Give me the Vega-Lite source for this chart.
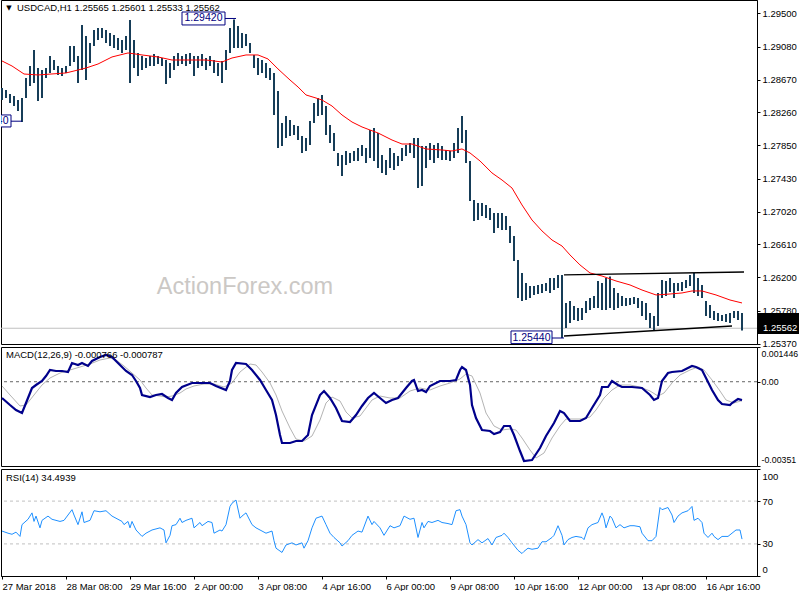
{
  "$schema": "https://vega.github.io/schema/vega-lite/v6.json",
  "background": "white",
  "padding": {"left": -3, "top": -1, "right": 0, "bottom": 0},
  "spacing": 3,
  "bounds": "flush",
  "config": {
    "view": {"stroke": "#000", "strokeWidth": 1},
    "axis": {"labelFont": "Liberation Sans", "labelFontSize": 9.5, "labelColor": "#000", "domainColor": "#000", "tickColor": "#000", "tickSize": 3, "labelPadding": 2, "grid": false},
    "text": {"font": "Liberation Sans"}
  },
  "datasets": {
    "bars": [{"t":0,"h":1.28565,"l":1.28415},{"t":2,"h":1.2854,"l":1.2844},{"t":4,"h":1.2849,"l":1.28378},{"t":6,"h":1.28465,"l":1.2834},{"t":8,"h":1.28415,"l":1.28278},{"t":10,"h":1.2844,"l":1.2814},{"t":12,"h":1.2869,"l":1.2844},{"t":14,"h":1.2884,"l":1.2859},{"t":16,"h":1.2904,"l":1.28628},{"t":18,"h":1.28815,"l":1.28403},{"t":20,"h":1.2879,"l":1.2844},{"t":22,"h":1.28815,"l":1.2869},{"t":24,"h":1.28965,"l":1.28753},{"t":26,"h":1.28915,"l":1.2879},{"t":28,"h":1.2884,"l":1.28728},{"t":30,"h":1.28815,"l":1.28715},{"t":32,"h":1.2884,"l":1.28753},{"t":34,"h":1.2909,"l":1.2884},{"t":36,"h":1.2909,"l":1.2889},{"t":38,"h":1.28965,"l":1.28628},{"t":40,"h":1.29353,"l":1.2879},{"t":42,"h":1.29215,"l":1.28665},{"t":44,"h":1.29128,"l":1.28878},{"t":46,"h":1.2929,"l":1.2909},{"t":48,"h":1.29315,"l":1.29165},{"t":50,"h":1.29315,"l":1.2919},{"t":52,"h":1.2929,"l":1.29128},{"t":54,"h":1.29253,"l":1.2909},{"t":56,"h":1.29228,"l":1.29065},{"t":58,"h":1.2919,"l":1.2904},{"t":60,"h":1.29165,"l":1.29003},{"t":62,"h":1.29215,"l":1.2904},{"t":64,"h":1.29415,"l":1.28628},{"t":66,"h":1.29165,"l":1.28815},{"t":68,"h":1.29003,"l":1.28715},{"t":70,"h":1.28965,"l":1.2879},{"t":72,"h":1.2894,"l":1.28815},{"t":74,"h":1.28965,"l":1.2884},{"t":76,"h":1.2899,"l":1.2884},{"t":78,"h":1.28965,"l":1.28865},{"t":80,"h":1.2894,"l":1.2884},{"t":82,"h":1.28915,"l":1.28615},{"t":84,"h":1.28878,"l":1.2869},{"t":86,"h":1.28965,"l":1.2879},{"t":88,"h":1.29003,"l":1.2884},{"t":90,"h":1.28965,"l":1.28865},{"t":92,"h":1.2899,"l":1.2884},{"t":94,"h":1.29003,"l":1.28865},{"t":96,"h":1.28965,"l":1.28715},{"t":98,"h":1.28965,"l":1.28815},{"t":100,"h":1.2899,"l":1.2884},{"t":102,"h":1.2894,"l":1.2879},{"t":104,"h":1.28965,"l":1.2884},{"t":106,"h":1.28915,"l":1.28753},{"t":108,"h":1.28878,"l":1.28715},{"t":110,"h":1.28903,"l":1.28628},{"t":112,"h":1.2904,"l":1.2879},{"t":114,"h":1.29315,"l":1.29003},{"t":116,"h":1.2942,"l":1.29065},{"t":118,"h":1.2934,"l":1.29065},{"t":120,"h":1.29253,"l":1.29065},{"t":122,"h":1.2924,"l":1.2909},{"t":124,"h":1.29128,"l":1.29003},{"t":126,"h":1.28978,"l":1.28815},{"t":128,"h":1.2894,"l":1.28728},{"t":130,"h":1.28915,"l":1.28753},{"t":132,"h":1.28878,"l":1.2869},{"t":134,"h":1.28815,"l":1.28665},{"t":136,"h":1.28753,"l":1.28228},{"t":138,"h":1.28528,"l":1.27815},{"t":140,"h":1.28128,"l":1.2784},{"t":142,"h":1.28215,"l":1.2794},{"t":144,"h":1.28165,"l":1.27965},{"t":146,"h":1.28103,"l":1.27978},{"t":148,"h":1.2809,"l":1.27915},{"t":150,"h":1.27965,"l":1.27753},{"t":152,"h":1.2794,"l":1.27778},{"t":154,"h":1.28153,"l":1.27853},{"t":156,"h":1.28378,"l":1.28128},{"t":158,"h":1.2844,"l":1.28215},{"t":160,"h":1.28478,"l":1.28228},{"t":162,"h":1.2834,"l":1.27978},{"t":164,"h":1.28103,"l":1.27878},{"t":166,"h":1.28003,"l":1.27778},{"t":168,"h":1.27753,"l":1.2759},{"t":170,"h":1.27728,"l":1.27465},{"t":172,"h":1.27778,"l":1.27603},{"t":174,"h":1.27753,"l":1.27628},{"t":176,"h":1.27778,"l":1.27653},{"t":178,"h":1.27815,"l":1.27653},{"t":180,"h":1.27853,"l":1.27715},{"t":182,"h":1.27815,"l":1.27628},{"t":184,"h":1.2804,"l":1.2769},{"t":186,"h":1.28065,"l":1.27653},{"t":188,"h":1.28003,"l":1.27565},{"t":190,"h":1.27728,"l":1.27503},{"t":192,"h":1.27665,"l":1.27478},{"t":194,"h":1.27815,"l":1.27565},{"t":196,"h":1.27753,"l":1.2754},{"t":198,"h":1.27715,"l":1.2759},{"t":200,"h":1.27815,"l":1.27653},{"t":202,"h":1.27853,"l":1.27715},{"t":204,"h":1.27878,"l":1.27753},{"t":206,"h":1.2794,"l":1.2769},{"t":208,"h":1.2794,"l":1.27315},{"t":210,"h":1.2784,"l":1.2734},{"t":212,"h":1.2784,"l":1.27565},{"t":214,"h":1.27878,"l":1.27665},{"t":216,"h":1.27853,"l":1.27628},{"t":218,"h":1.27878,"l":1.2769},{"t":220,"h":1.2784,"l":1.27665},{"t":222,"h":1.2779,"l":1.27665},{"t":224,"h":1.27778,"l":1.27653},{"t":226,"h":1.27878,"l":1.2769},{"t":228,"h":1.28065,"l":1.27753},{"t":230,"h":1.28215,"l":1.27878},{"t":232,"h":1.2804,"l":1.27628},{"t":234,"h":1.27653,"l":1.27153},{"t":236,"h":1.27165,"l":1.26903},{"t":238,"h":1.27128,"l":1.26915},{"t":240,"h":1.27128,"l":1.26965},{"t":242,"h":1.27103,"l":1.2694},{"t":244,"h":1.27065,"l":1.26915},{"t":246,"h":1.27003,"l":1.26753},{"t":248,"h":1.27003,"l":1.26815},{"t":250,"h":1.27003,"l":1.2679},{"t":252,"h":1.26965,"l":1.2679},{"t":254,"h":1.2684,"l":1.26628},{"t":256,"h":1.26715,"l":1.26403},{"t":258,"h":1.26415,"l":1.2594},{"t":260,"h":1.26253,"l":1.25903},{"t":262,"h":1.26128,"l":1.25915},{"t":264,"h":1.2609,"l":1.2594},{"t":266,"h":1.2609,"l":1.25978},{"t":268,"h":1.26103,"l":1.2599},{"t":270,"h":1.26115,"l":1.26003},{"t":272,"h":1.26128,"l":1.26028},{"t":274,"h":1.2619,"l":1.26003},{"t":276,"h":1.2619,"l":1.2604},{"t":278,"h":1.26228,"l":1.26065},{"t":280,"h":1.26228,"l":1.2544},{"t":282,"h":1.25878,"l":1.25565},{"t":284,"h":1.25903,"l":1.25628},{"t":286,"h":1.2584,"l":1.25665},{"t":288,"h":1.25815,"l":1.25653},{"t":290,"h":1.25815,"l":1.25665},{"t":292,"h":1.25903,"l":1.25753},{"t":294,"h":1.2594,"l":1.2579},{"t":296,"h":1.25965,"l":1.25815},{"t":298,"h":1.26153,"l":1.25815},{"t":300,"h":1.26128,"l":1.2579},{"t":302,"h":1.2619,"l":1.2579},{"t":304,"h":1.2621,"l":1.25815},{"t":306,"h":1.26065,"l":1.2579},{"t":308,"h":1.26003,"l":1.25815},{"t":310,"h":1.25965,"l":1.2584},{"t":312,"h":1.2594,"l":1.2584},{"t":314,"h":1.2594,"l":1.25853},{"t":316,"h":1.25953,"l":1.25865},{"t":318,"h":1.2594,"l":1.25815},{"t":320,"h":1.25903,"l":1.25715},{"t":322,"h":1.25878,"l":1.25665},{"t":324,"h":1.25753,"l":1.25565},{"t":326,"h":1.25715,"l":1.2554},{"t":328,"h":1.26003,"l":1.2559},{"t":330,"h":1.26165,"l":1.2594},{"t":332,"h":1.26153,"l":1.25965},{"t":334,"h":1.2619,"l":1.26015},{"t":336,"h":1.26128,"l":1.2594},{"t":338,"h":1.26128,"l":1.26028},{"t":340,"h":1.2614,"l":1.26028},{"t":342,"h":1.26165,"l":1.26065},{"t":344,"h":1.26228,"l":1.2609},{"t":346,"h":1.26253,"l":1.26003},{"t":348,"h":1.2619,"l":1.25965},{"t":350,"h":1.26103,"l":1.2594},{"t":352,"h":1.25903,"l":1.25715},{"t":354,"h":1.25853,"l":1.2569},{"t":356,"h":1.25778,"l":1.25665},{"t":358,"h":1.25753,"l":1.25653},{"t":360,"h":1.25728,"l":1.25653},{"t":362,"h":1.2574,"l":1.2564},{"t":364,"h":1.25753,"l":1.25628},{"t":366,"h":1.25778,"l":1.2569},{"t":368,"h":1.25778,"l":1.25665},{"t":370,"h":1.25753,"l":1.25533}],
    "ma": [{"t":0,"v":1.28903},{"t":5,"v":1.2884},{"t":11,"v":1.2874},{"t":18,"v":1.28728},{"t":32,"v":1.28753},{"t":42,"v":1.28815},{"t":48,"v":1.28865},{"t":55,"v":1.28953},{"t":63,"v":1.29003},{"t":70,"v":1.28978},{"t":78,"v":1.28953},{"t":85,"v":1.28915},{"t":94,"v":1.28915},{"t":102,"v":1.28915},{"t":106,"v":1.28903},{"t":110,"v":1.2889},{"t":115,"v":1.2894},{"t":122,"v":1.28978},{"t":128,"v":1.28978},{"t":133,"v":1.28928},{"t":138,"v":1.28803},{"t":144,"v":1.28665},{"t":148,"v":1.28578},{"t":152,"v":1.28478},{"t":157,"v":1.2844},{"t":160,"v":1.28415},{"t":165,"v":1.2834},{"t":170,"v":1.28228},{"t":175,"v":1.2814},{"t":180,"v":1.28078},{"t":184,"v":1.2804},{"t":188,"v":1.28003},{"t":195,"v":1.27915},{"t":200,"v":1.27865},{"t":205,"v":1.27865},{"t":212,"v":1.27803},{"t":220,"v":1.2779},{"t":225,"v":1.27778},{"t":230,"v":1.27803},{"t":234,"v":1.27753},{"t":239,"v":1.27653},{"t":245,"v":1.27503},{"t":250,"v":1.27415},{"t":255,"v":1.27315},{"t":260,"v":1.27103},{"t":265,"v":1.26915},{"t":270,"v":1.26778},{"t":275,"v":1.26665},{"t":280,"v":1.2659},{"t":284,"v":1.26478},{"t":289,"v":1.26353},{"t":294,"v":1.26253},{"t":300,"v":1.26215},{"t":307,"v":1.26153},{"t":314,"v":1.26103},{"t":320,"v":1.2604},{"t":327,"v":1.25978},{"t":334,"v":1.2599},{"t":340,"v":1.26003},{"t":345,"v":1.26028},{"t":350,"v":1.26028},{"t":357,"v":1.25978},{"t":364,"v":1.25915},{"t":370,"v":1.25878}],
    "trend": [{"t1":281,"t2":371,"p1":1.26228,"p2":1.26265},{"t1":281,"t2":365,"p1":1.25465,"p2":1.2559}],
    "boxes": [{"lbl":"1.29420","x1":90,"x2":111.5,"y1":1.29515,"y2":1.29353,"tx":100.75,"ty":1.29434,"c1":111.5,"c2":117,"cy":1.29434},{"lbl":"1.25440","x1":254.5,"x2":275,"y1":1.25528,"y2":1.2537,"tx":264.75,"ty":1.25446,"c1":275,"c2":281,"cy":1.2544},{"lbl":"1.28140","x1":-17,"x2":4.5,"y1":1.28228,"y2":1.28078,"tx":-6.25,"ty":1.2815,"c1":4.5,"c2":10,"cy":1.2815}],
    "macd": [{"t":0,"m":-0.000678},{"t":4,"m":-0.00097},{"t":7,"m":-0.001178},{"t":10,"m":-0.001303},{"t":12,"m":-0.000886},{"t":15,"m":-0.000262},{"t":17,"m":-0.000137},{"t":20,"m":0.00003},{"t":22,"m":0.000238},{"t":24,"m":0.000488},{"t":27,"m":0.000446},{"t":30,"m":0.000446},{"t":33,"m":0.000405},{"t":35,"m":0.00078},{"t":38,"m":0.000696},{"t":40,"m":0.00078},{"t":43,"m":0.000655},{"t":45,"m":0.000863},{"t":49,"m":0.001029},{"t":52,"m":0.001113},{"t":55,"m":0.001029},{"t":59,"m":0.000696},{"t":62,"m":0.000446},{"t":65,"m":0.00028},{"t":67,"m":0.00003},{"t":69,"m":-0.000262},{"t":70,"m":-0.000553},{"t":74,"m":-0.000637},{"t":77,"m":-0.000553},{"t":80,"m":-0.000512},{"t":83,"m":-0.000678},{"t":85,"m":-0.000761},{"t":87,"m":-0.00047},{"t":90,"m":-0.00022},{"t":95,"m":-0.000053},{"t":99,"m":-0.000053},{"t":104,"m":-0.000053},{"t":107,"m":-0.000178},{"t":112,"m":-0.000345},{"t":114,"m":0.00003},{"t":115,"m":0.000488},{"t":117,"m":0.00078},{"t":122,"m":0.000738},{"t":125,"m":0.000488},{"t":129,"m":0.000072},{"t":132,"m":-0.000345},{"t":135,"m":-0.000761},{"t":137,"m":-0.001386},{"t":139,"m":-0.002219},{"t":140,"m":-0.002552},{"t":144,"m":-0.002552},{"t":147,"m":-0.002469},{"t":150,"m":-0.002469},{"t":153,"m":-0.002219},{"t":155,"m":-0.001386},{"t":159,"m":-0.000553},{"t":161,"m":-0.000387},{"t":164,"m":-0.000678},{"t":167,"m":-0.001095},{"t":170,"m":-0.001636},{"t":174,"m":-0.001678},{"t":177,"m":-0.001386},{"t":180,"m":-0.001011},{"t":183,"m":-0.000678},{"t":186,"m":-0.00047},{"t":189,"m":-0.000678},{"t":192,"m":-0.000886},{"t":195,"m":-0.000761},{"t":198,"m":-0.000678},{"t":202,"m":-0.000262},{"t":205,"m":0.00003},{"t":206,"m":0.000072},{"t":208,"m":-0.000387},{"t":210,"m":-0.000345},{"t":212,"m":-0.000428},{"t":214,"m":-0.000178},{"t":219,"m":0.00003},{"t":224,"m":0.00003},{"t":227,"m":0.000072},{"t":229,"m":0.000488},{"t":230,"m":0.000613},{"t":232,"m":0.000488},{"t":234,"m":-0.000137},{"t":235,"m":-0.00097},{"t":237,"m":-0.001511},{"t":240,"m":-0.002011},{"t":244,"m":-0.002053},{"t":246,"m":-0.002178},{"t":249,"m":-0.002094},{"t":251,"m":-0.001844},{"t":254,"m":-0.001844},{"t":256,"m":-0.002219},{"t":259,"m":-0.002886},{"t":261,"m":-0.003302},{"t":265,"m":-0.00326},{"t":269,"m":-0.002761},{"t":272,"m":-0.002261},{"t":276,"m":-0.001719},{"t":279,"m":-0.00122},{"t":281,"m":-0.001303},{"t":284,"m":-0.001636},{"t":289,"m":-0.001636},{"t":292,"m":-0.001511},{"t":295,"m":-0.001095},{"t":299,"m":-0.000553},{"t":300,"m":-0.00022},{"t":303,"m":-0.00022},{"t":305,"m":0.00003},{"t":308,"m":-0.000137},{"t":310,"m":-0.00022},{"t":315,"m":-0.00022},{"t":320,"m":-0.000262},{"t":324,"m":-0.000553},{"t":326,"m":-0.000761},{"t":328,"m":-0.000678},{"t":330,"m":0.00003},{"t":333,"m":0.000363},{"t":335,"m":0.000405},{"t":340,"m":0.000446},{"t":345,"m":0.000655},{"t":347,"m":0.000613},{"t":350,"m":0.000488},{"t":352,"m":0.000155},{"t":355,"m":-0.000345},{"t":358,"m":-0.000761},{"t":360,"m":-0.000928},{"t":364,"m":-0.00097},{"t":365,"m":-0.000886},{"t":368,"m":-0.00072},{"t":370,"m":-0.000766}],
    "sig": [{"t":0,"s":-0.000178},{"t":4,"s":-0.000553},{"t":9,"s":-0.001011},{"t":12,"s":-0.00097},{"t":16,"s":-0.000553},{"t":20,"s":-0.000137},{"t":24,"s":0.000155},{"t":29,"s":0.000363},{"t":34,"s":0.000488},{"t":39,"s":0.000613},{"t":44,"s":0.000738},{"t":49,"s":0.000905},{"t":54,"s":0.000988},{"t":57,"s":0.000905},{"t":61,"s":0.000655},{"t":65,"s":0.000363},{"t":69,"s":0.000072},{"t":72,"s":-0.000262},{"t":75,"s":-0.000553},{"t":79,"s":-0.000595},{"t":82,"s":-0.000637},{"t":85,"s":-0.000595},{"t":89,"s":-0.00047},{"t":92,"s":-0.000303},{"t":96,"s":-0.000178},{"t":101,"s":-0.000095},{"t":106,"s":-0.000095},{"t":111,"s":-0.00022},{"t":115,"s":-0.000053},{"t":119,"s":0.000405},{"t":124,"s":0.000738},{"t":127,"s":0.000696},{"t":130,"s":0.000405},{"t":134,"s":-0.000053},{"t":137,"s":-0.000553},{"t":140,"s":-0.00122},{"t":144,"s":-0.001928},{"t":147,"s":-0.002386},{"t":151,"s":-0.002469},{"t":155,"s":-0.002261},{"t":159,"s":-0.001594},{"t":162,"s":-0.000886},{"t":165,"s":-0.000637},{"t":169,"s":-0.000803},{"t":172,"s":-0.001261},{"t":175,"s":-0.001511},{"t":179,"s":-0.001428},{"t":182,"s":-0.001095},{"t":185,"s":-0.000761},{"t":189,"s":-0.000595},{"t":194,"s":-0.000678},{"t":199,"s":-0.000678},{"t":204,"s":-0.000387},{"t":209,"s":-0.000262},{"t":214,"s":-0.000345},{"t":219,"s":-0.000178},{"t":224,"s":-0.000053},{"t":229,"s":0.000113},{"t":232,"s":0.000321},{"t":235,"s":0.000238},{"t":239,"s":-0.00047},{"t":242,"s":-0.001303},{"t":246,"s":-0.001844},{"t":250,"s":-0.002011},{"t":254,"s":-0.001969},{"t":257,"s":-0.002011},{"t":260,"s":-0.002344},{"t":264,"s":-0.002844},{"t":267,"s":-0.003177},{"t":271,"s":-0.002969},{"t":275,"s":-0.002344},{"t":279,"s":-0.001844},{"t":282,"s":-0.001553},{"t":286,"s":-0.001553},{"t":290,"s":-0.001553},{"t":294,"s":-0.001469},{"t":297,"s":-0.001178},{"t":301,"s":-0.000678},{"t":305,"s":-0.000345},{"t":309,"s":-0.000137},{"t":314,"s":-0.000137},{"t":319,"s":-0.00022},{"t":324,"s":-0.000387},{"t":328,"s":-0.000595},{"t":331,"s":-0.00047},{"t":335,"s":-0.000053},{"t":339,"s":0.00028},{"t":344,"s":0.000488},{"t":348,"s":0.000613},{"t":351,"s":0.000488},{"t":355,"s":0.000072},{"t":359,"s":-0.000387},{"t":362,"s":-0.000761},{"t":366,"s":-0.000886},{"t":370,"s":-0.000787}],
    "rsi": [{"t":0,"r":42},{"t":3,"r":40},{"t":5,"r":39},{"t":7,"r":41},{"t":9,"r":37},{"t":10,"r":48},{"t":13,"r":53},{"t":15,"r":59},{"t":16,"r":51},{"t":17,"r":56},{"t":19,"r":45},{"t":20,"r":52},{"t":23,"r":56},{"t":25,"r":53},{"t":29,"r":51},{"t":31,"r":52},{"t":33,"r":57},{"t":35,"r":62},{"t":36,"r":57},{"t":38,"r":48},{"t":40,"r":60},{"t":41,"r":50},{"t":44,"r":52},{"t":46,"r":61},{"t":49,"r":60},{"t":52,"r":61},{"t":55,"r":56},{"t":57,"r":54},{"t":60,"r":51},{"t":61,"r":48},{"t":63,"r":51},{"t":64,"r":45},{"t":65,"r":51},{"t":67,"r":43},{"t":70,"r":37},{"t":72,"r":40},{"t":75,"r":43},{"t":79,"r":45},{"t":81,"r":43},{"t":82,"r":31},{"t":84,"r":38},{"t":85,"r":47},{"t":87,"r":48},{"t":89,"r":54},{"t":90,"r":50},{"t":92,"r":52},{"t":95,"r":54},{"t":96,"r":45},{"t":99,"r":50},{"t":100,"r":47},{"t":103,"r":51},{"t":105,"r":50},{"t":106,"r":40},{"t":109,"r":43},{"t":110,"r":42},{"t":112,"r":48},{"t":114,"r":65},{"t":115,"r":68},{"t":117,"r":71},{"t":119,"r":54},{"t":120,"r":56},{"t":122,"r":59},{"t":125,"r":48},{"t":127,"r":45},{"t":130,"r":42},{"t":132,"r":40},{"t":135,"r":42},{"t":136,"r":33},{"t":137,"r":26},{"t":140,"r":22},{"t":142,"r":29},{"t":145,"r":31},{"t":147,"r":29},{"t":150,"r":31},{"t":151,"r":26},{"t":153,"r":33},{"t":155,"r":45},{"t":157,"r":54},{"t":160,"r":56},{"t":162,"r":48},{"t":164,"r":40},{"t":166,"r":36},{"t":169,"r":31},{"t":170,"r":28},{"t":173,"r":33},{"t":175,"r":38},{"t":178,"r":42},{"t":180,"r":41},{"t":183,"r":56},{"t":185,"r":48},{"t":186,"r":51},{"t":189,"r":45},{"t":191,"r":38},{"t":194,"r":47},{"t":196,"r":45},{"t":199,"r":47},{"t":201,"r":56},{"t":204,"r":53},{"t":206,"r":54},{"t":208,"r":36},{"t":210,"r":50},{"t":211,"r":45},{"t":213,"r":51},{"t":215,"r":50},{"t":218,"r":52},{"t":220,"r":50},{"t":223,"r":49},{"t":225,"r":48},{"t":227,"r":61},{"t":229,"r":62},{"t":230,"r":56},{"t":232,"r":48},{"t":234,"r":31},{"t":235,"r":29},{"t":238,"r":34},{"t":240,"r":31},{"t":243,"r":35},{"t":245,"r":29},{"t":247,"r":36},{"t":250,"r":38},{"t":251,"r":40},{"t":253,"r":36},{"t":255,"r":31},{"t":258,"r":24},{"t":260,"r":21},{"t":261,"r":23},{"t":263,"r":26},{"t":265,"r":25},{"t":268,"r":26},{"t":270,"r":32},{"t":272,"r":32},{"t":275,"r":36},{"t":276,"r":38},{"t":278,"r":47},{"t":280,"r":38},{"t":281,"r":29},{"t":283,"r":34},{"t":285,"r":36},{"t":287,"r":37},{"t":290,"r":36},{"t":291,"r":34},{"t":293,"r":45},{"t":295,"r":48},{"t":298,"r":50},{"t":300,"r":59},{"t":301,"r":54},{"t":302,"r":45},{"t":304,"r":56},{"t":305,"r":54},{"t":307,"r":45},{"t":309,"r":48},{"t":311,"r":45},{"t":314,"r":47},{"t":316,"r":47},{"t":319,"r":46},{"t":320,"r":40},{"t":323,"r":33},{"t":325,"r":33},{"t":327,"r":37},{"t":329,"r":64},{"t":330,"r":62},{"t":333,"r":64},{"t":335,"r":57},{"t":336,"r":50},{"t":338,"r":56},{"t":340,"r":59},{"t":343,"r":61},{"t":345,"r":65},{"t":346,"r":52},{"t":348,"r":54},{"t":350,"r":50},{"t":351,"r":40},{"t":353,"r":36},{"t":355,"r":40},{"t":356,"r":37},{"t":358,"r":34},{"t":360,"r":37},{"t":363,"r":37},{"t":365,"r":40},{"t":367,"r":43},{"t":369,"r":43},{"t":370,"r":34.49}],
    "notes": [{"x":121.5,"y":1.260775,"s":"ActionForex.com"}],
    "head": [{"x":7.5,"y":1.29565,"s":"USDCAD,H1  1.25565 1.25601 1.25533 1.25562"}],
    "tag": [{"x":380.5,"x1":378,"x2":398.5,"y":1.25562,"y1":1.25753,"y2":1.2549,"s":"1.25562"}]
  },
  "vconcat": [
    {
      "width": 756,
      "height": 344,
      "layer": [
        {
          "data": {"name": "notes"},
          "mark": {"type": "text", "fontSize": 23.5, "color": "#cbc8c5", "align": "center", "baseline": "middle", "font": "Liberation Sans"},
          "encoding": {"x": {"field": "x", "type": "quantitative", "axis": null}, "y": {"field": "y", "type": "quantitative", "title": null}, "text": {"field": "s"}}
        },
        {
          "data": {"values": [{"p": 1.25562}]},
          "mark": {"type": "rule", "color": "#c0c0c0", "strokeWidth": 1},
          "encoding": {"y": {"field": "p", "type": "quantitative", "title": null}}
        },
        {
          "data": {"name": "bars"},
          "mark": {"type": "rule", "color": "#163d58", "strokeWidth": 2},
          "encoding": {
            "x": {"field": "t", "type": "quantitative", "scale": {"domain": [-0.5, 377.5], "nice": false, "zero": false}, "axis": null},
            "y": {"field": "l", "type": "quantitative", "scale": {"domain": [1.25365, 1.29665], "nice": false, "zero": false}, "title": null,
                  "axis": {"orient": "right", "values": [1.2537, 1.2578, 1.262, 1.2661, 1.2702, 1.2743, 1.2785, 1.2826, 1.2867, 1.2908, 1.295], "tickCount": 30, "format": ".5f", "labelFlush": false, "labelOverlap": false, "title": null}},
            "y2": {"field": "h"}
          }
        },
        {
          "data": {"name": "ma"},
          "mark": {"type": "line", "color": "#ff0000", "strokeWidth": 1},
          "encoding": {"x": {"field": "t", "type": "quantitative", "axis": null}, "y": {"field": "v", "type": "quantitative", "title": null}}
        },
        {
          "data": {"name": "trend"},
          "mark": {"type": "rule", "color": "#000", "strokeWidth": 1.3},
          "encoding": {"x": {"field": "t1", "type": "quantitative", "axis": null}, "x2": {"field": "t2"}, "y": {"field": "p1", "type": "quantitative", "title": null}, "y2": {"field": "p2"}}
        },
        {
          "data": {"name": "boxes"},
          "mark": {"type": "rule", "color": "#000080", "strokeWidth": 1, "clip": true},
          "encoding": {"x": {"field": "c1", "type": "quantitative", "axis": null}, "x2": {"field": "c2"}, "y": {"field": "cy", "type": "quantitative", "title": null}}
        },
        {
          "data": {"name": "boxes"},
          "mark": {"type": "rect", "fill": "#fff", "stroke": "#000080", "strokeWidth": 1, "clip": true},
          "encoding": {"x": {"field": "x1", "type": "quantitative", "axis": null}, "x2": {"field": "x2"}, "y": {"field": "y1", "type": "quantitative", "title": null}, "y2": {"field": "y2"}}
        },
        {
          "data": {"name": "boxes"},
          "mark": {"type": "text", "color": "#000080", "fontSize": 10.5, "align": "center", "baseline": "middle", "clip": true},
          "encoding": {"x": {"field": "tx", "type": "quantitative", "axis": null}, "y": {"field": "ty", "type": "quantitative", "title": null}, "text": {"field": "lbl"}}
        },
        {
          "data": {"name": "head"},
          "mark": {"type": "text", "color": "#000", "fontSize": 9.5, "align": "left", "baseline": "middle"},
          "encoding": {"x": {"field": "x", "type": "quantitative", "axis": null}, "y": {"field": "y", "type": "quantitative", "title": null}, "text": {"field": "s"}}
        },
        {
          "data": {"name": "head"},
          "mark": {"type": "text", "color": "#000", "fontSize": 7, "align": "center", "baseline": "middle", "dx": -8, "font": "DejaVu Sans"},
          "encoding": {"x": {"field": "x", "type": "quantitative", "axis": null}, "y": {"field": "y", "type": "quantitative", "title": null}, "text": {"value": "▼"}}
        },
        {
          "data": {"name": "tag"},
          "mark": {"type": "rect", "fill": "#000"},
          "encoding": {"x": {"field": "x1", "type": "quantitative", "axis": null}, "x2": {"field": "x2"}, "y": {"field": "y1", "type": "quantitative", "title": null}, "y2": {"field": "y2"}}
        },
        {
          "data": {"name": "tag"},
          "mark": {"type": "text", "color": "#fff", "fontSize": 9.5, "align": "left", "baseline": "middle"},
          "encoding": {"x": {"field": "x", "type": "quantitative", "axis": null}, "y": {"field": "y", "type": "quantitative", "title": null}, "text": {"field": "s"}}
        }
      ]
    },
    {
      "width": 756,
      "height": 119,
      "layer": [
        {
          "data": {"values": [{"z": 0}]},
          "mark": {"type": "rule", "color": "#666", "strokeWidth": 1, "strokeDash": [3, 3]},
          "encoding": {"y": {"field": "z", "type": "quantitative", "title": null}}
        },
        {
          "data": {"name": "sig"},
          "mark": {"type": "line", "color": "#b4b4b4", "strokeWidth": 1},
          "encoding": {"x": {"field": "t", "type": "quantitative", "axis": null}, "y": {"field": "s", "type": "quantitative", "title": null}}
        },
        {
          "data": {"name": "macd"},
          "mark": {"type": "line", "color": "#00008b", "strokeWidth": 2.2},
          "encoding": {
            "x": {"field": "t", "type": "quantitative", "scale": {"domain": [-0.5, 377.5], "nice": false, "zero": false}, "axis": null},
            "y": {"field": "m", "type": "quantitative", "scale": {"domain": [-0.00351, 0.001446], "nice": false, "zero": false}, "title": null,
                  "axis": {"orient": "right", "values": [-0.00351, 0, 0.001446], "tickCount": 30, "labelFontSize": 8.8, "labelPadding": 1, "labelFlush": true, "labelFlushOffset": -2, "labelOverlap": false, "labelExpr": "datum.value > 0.001 ? '0.001446' : (datum.value < -0.001 ? '-0.00351' : '0.00')", "title": null}}
          }
        },
        {
          "data": {"values": [{"x": 2, "y": 0.001113, "s": "MACD(12,26,9) -0.000766 -0.000787"}]},
          "mark": {"type": "text", "color": "#000", "fontSize": 9.5, "align": "left", "baseline": "middle"},
          "encoding": {"x": {"field": "x", "type": "quantitative", "axis": null}, "y": {"field": "y", "type": "quantitative", "title": null}, "text": {"field": "s"}}
        }
      ]
    },
    {
      "width": 756,
      "height": 107,
      "layer": [
        {
          "data": {"values": [{"lv": 30}, {"lv": 70}]},
          "mark": {"type": "rule", "color": "#c0c0c0", "strokeWidth": 1, "strokeDash": [3, 3]},
          "encoding": {"y": {"field": "lv", "type": "quantitative", "title": null}}
        },
        {
          "data": {"name": "rsi"},
          "mark": {"type": "line", "color": "#1e90ff", "strokeWidth": 1},
          "encoding": {
            "x": {"field": "t", "type": "quantitative", "scale": {"domain": [-0.5, 377.5], "nice": false, "zero": false}, "title": null,
                  "axis": {"values": [0, 32, 64, 96, 128, 160, 192, 224, 256, 288, 320, 352], "tickCount": 30, "labelAlign": "left", "labelOverlap": false, "labelFlush": false, "labelPadding": 2,
                           "labelExpr": "['27 Mar 2018','28 Mar 08:00','29 Mar 16:00','2 Apr 00:00','3 Apr 08:00','4 Apr 16:00','6 Apr 00:00','9 Apr 08:00','10 Apr 16:00','12 Apr 00:00','13 Apr 08:00','16 Apr 16:00'][round(datum.value / 32)]", "title": null}},
            "y": {"field": "r", "type": "quantitative", "scale": {"domain": [0, 100], "nice": false, "zero": false}, "title": null,
                  "axis": {"orient": "right", "values": [0, 30, 70, 100], "tickCount": 30, "labelFlush": true, "labelFlushOffset": -2, "labelOverlap": false, "title": null}}
          }
        },
        {
          "data": {"values": [{"x": 2, "y": 91.6, "s": "RSI(14) 34.4939"}]},
          "mark": {"type": "text", "color": "#000", "fontSize": 9.5, "align": "left", "baseline": "middle"},
          "encoding": {"x": {"field": "x", "type": "quantitative", "title": null}, "y": {"field": "y", "type": "quantitative", "title": null}, "text": {"field": "s"}}
        }
      ]
    }
  ]
}
